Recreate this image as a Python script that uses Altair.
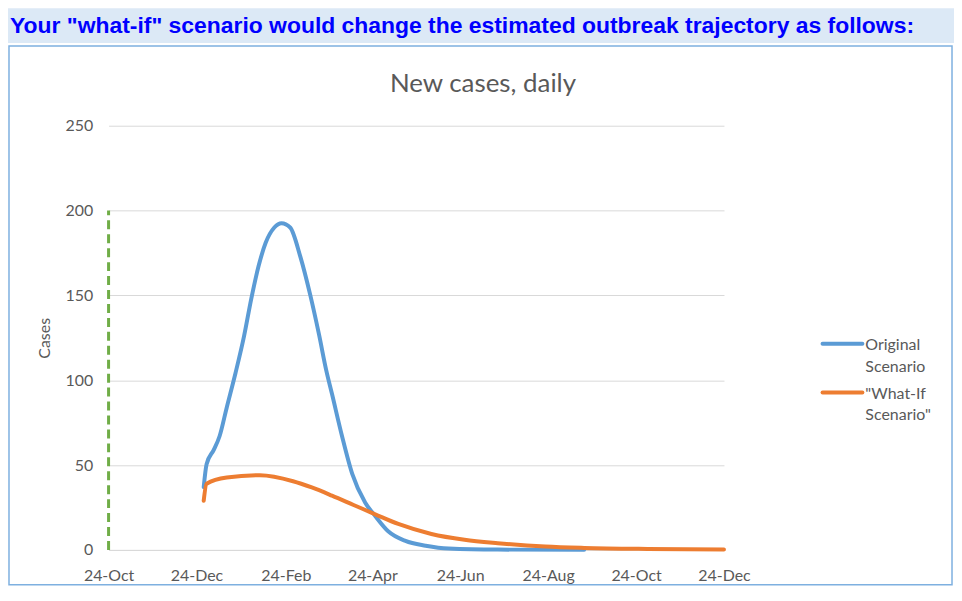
import altair as alt
import pandas as pd

# ---------------- data ----------------
series_names = ["Original Scenario", '"What-If Scenario"']
series_colors = ["#5b9bd5", "#ed7d31"]

orig_dates = ["2019-12-29", "2019-12-31", "2020-01-05", "2020-01-09", "2020-01-14",
              "2020-01-20", "2020-01-26", "2020-01-31", "2020-02-05", "2020-02-10",
              "2020-02-16", "2020-02-21", "2020-02-27", "2020-03-05", "2020-03-12",
              "2020-03-18", "2020-03-23", "2020-03-27", "2020-04-03", "2020-04-10",
              "2020-04-19", "2020-04-26", "2020-05-05", "2020-05-17", "2020-05-31",
              "2020-06-16", "2020-07-20", "2020-09-18"]
orig_cases = [37, 50.5, 59, 67, 84,
              104, 126, 148, 167, 181,
              190, 192.5, 190, 173, 150,
              127, 106, 92, 67, 45,
              28, 20, 11, 5.3, 2.5,
              0.8, 0.2, 0.05]

whatif_dates = ["2019-12-29", "2019-12-31", "2020-01-14", "2020-02-06", "2020-02-29",
                "2020-03-13", "2020-03-27", "2020-04-11", "2020-04-26", "2020-05-12",
                "2020-06-04", "2020-06-27", "2020-07-20", "2020-08-22", "2020-09-18",
                "2020-11-01", "2020-12-24"]
whatif_cases = [29, 39, 42.7, 44, 40.5,
                36.8, 32, 26.5, 21, 15.3,
                9.4, 6, 4, 2, 1.2,
                0.6, 0.3]

marker_date = ["2019-10-24"]
marker_low = [0]
marker_high = [200]

x_start = (2019, 10, 24)
x_end = (2020, 12, 24)
x_tick_months = [(2019, 10), (2019, 12), (2020, 2), (2020, 4), (2020, 6),
                 (2020, 8), (2020, 10), (2020, 12)]
y_ticks = [0, 50, 100, 150, 200, 250]

header_text = 'Your "what-if" scenario would change the estimated outbreak trajectory as follows:'
chart_title = "New cases, daily"
y_title = "Cases"

# ---------------- tables ----------------
df = pd.concat([
    pd.DataFrame({"date": orig_dates, "cases": orig_cases, "series": series_names[0]}),
    pd.DataFrame({"date": whatif_dates, "cases": whatif_cases, "series": series_names[1]}),
], ignore_index=True)
marker_df = pd.DataFrame({"date": marker_date, "lo": marker_low, "hi": marker_high})
one = pd.DataFrame({"k": [0]})

W, H = 618, 426
FONT = "Lato"
GREY = "#595959"

def dt(y, m, d):
    return alt.DateTime(year=y, month=m, date=d, utc=True)

x_scale = alt.Scale(type="utc", domain=[dt(*x_start), dt(*x_end)])
x_enc = alt.X(
    "date:T", scale=x_scale,
    axis=alt.Axis(values=[dt(y, m, 24) for y, m in x_tick_months], format="%d-%b",
                  title=None, grid=False, ticks=False, domainColor="#d9d9d9",
                  domainWidth=1, labelFont=FONT, labelFontSize=16, labelColor=GREY,
                  labelPadding=18, labelFlush=False),
)
y_enc = alt.Y(
    "cases:Q", scale=alt.Scale(domain=[0, 250], nice=False),
    axis=alt.Axis(values=y_ticks, title=y_title, grid=True, gridColor="#d9d9d9",
                  gridWidth=1, domain=False, ticks=False, labelFont=FONT,
                  labelFontSize=16, labelColor=GREY, labelPadding=16,
                  titleFont=FONT, titleFontSize=16, titleColor=GREY,
                  titleFontWeight="normal", titleX=-64, titleY=H / 2,
                  titleBaseline="middle", titleAlign="center"),
)
color_enc = alt.Color(
    "series:N",
    scale=alt.Scale(domain=series_names, range=series_colors),
    legend=None,
)

band = alt.Chart(one).mark_rect(color="#dce9f6").encode(
    x=alt.value(-101), x2=alt.value(849), y=alt.value(-118), y2=alt.value(-83))
box = alt.Chart(one).mark_rect(fill="white", fillOpacity=0, stroke="#7eb0e0",
                               strokeWidth=1.5).encode(
    x=alt.value(-100), x2=alt.value(847), y=alt.value(-80), y2=alt.value(461))
header = alt.Chart(one).mark_text(
    text=header_text, align="left", baseline="alphabetic", font="Liberation Sans",
    fontWeight="bold", fontSize=23, color="#0000ff").encode(
    x=alt.value(-99), y=alt.value(-93))
title = alt.Chart(one).mark_text(
    text=chart_title, align="center", baseline="middle", font=FONT,
    fontSize=26, color=GREY).encode(x=alt.value(376), y=alt.value(-42))

marker = alt.Chart(marker_df).mark_rule(
    color="#70ad47", strokeWidth=3, strokeDash=[9, 5]).encode(
    x=alt.X("date:T", scale=x_scale), y="lo:Q", y2="hi:Q")

base = alt.Chart(df).encode(x=x_enc, y=y_enc, color=color_enc)
line_orig = base.transform_filter(alt.datum.series == series_names[0]).mark_line(
    strokeWidth=4, interpolate="monotone", strokeCap="round", strokeJoin="round")
line_what = base.transform_filter(alt.datum.series == series_names[1]).mark_line(
    strokeWidth=4, interpolate="monotone", strokeCap="round", strokeJoin="round")

# legend (symbol line + two-line label per series)
legend_layers = []
LEG_X, LEG_Y0, LEG_STEP, LINE_H = 715, 219, 49, 22
for i, (name, col) in enumerate(zip(series_names, series_colors)):
    ys = LEG_Y0 + i * LEG_STEP
    legend_layers.append(
        alt.Chart(one).mark_rule(color=col, strokeWidth=4, strokeCap="round").encode(
            x=alt.value(LEG_X + 2), x2=alt.value(LEG_X + 42), y=alt.value(ys)))
    for j, part in enumerate(name.split(" ")):
        legend_layers.append(
            alt.Chart(one).mark_text(text=part, align="left", baseline="middle",
                                     font=FONT, fontSize=16, color=GREY).encode(
                x=alt.value(LEG_X + 45), y=alt.value(ys + 1 + j * LINE_H)))

chart = alt.layer(band, box, header, title, line_orig, line_what, marker,
                  *legend_layers).properties(
    width=W, height=H,
    autosize=alt.AutoSizeParams(type="none"),
    padding={"left": 101, "top": 117, "right": 231, "bottom": 38},
    background="white",
).configure_view(stroke=None)

chart.save("out.html", embed_options={"renderer": "svg", "actions": False})
